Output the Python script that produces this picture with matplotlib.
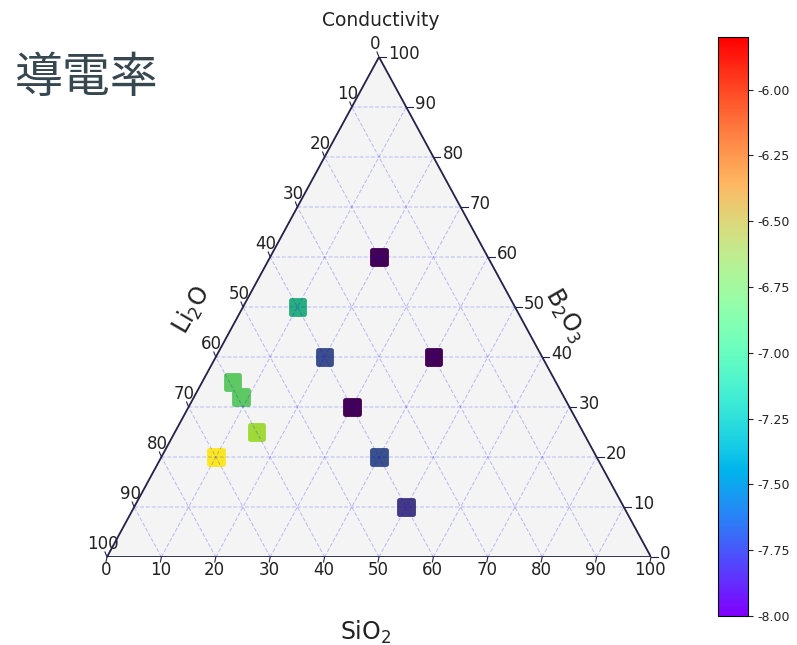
import numpy as np
import matplotlib
matplotlib.use('Agg')
import matplotlib.pyplot as plt
from matplotlib import cm, colors

# compositions (SiO2, B2O3, Li2O) in %
sio2 = [20, 10, 20, 40, 30, 40, 50, 10, 15, 5.6, 8.6]
b2o3 = [60, 50, 40, 40, 30, 20, 10, 20, 25, 35, 32]
li2o = [100 - s - b for s, b in zip(sio2, b2o3)]
# log conductivity
cond = [-8.0, -6.61, -7.47, -8.0, -8.0, -7.45, -7.63, -5.8, -6.11, -6.35, -6.35]

ticks = list(range(0, 101, 10))
cbar_ticks = [-8.0, -7.75, -7.5, -7.25, -7.0, -6.75, -6.5, -6.25, -6.0]
vmin, vmax = -8.0, -5.8

H = np.sqrt(3) / 2


def proj(a, b):
    # a = SiO2 (bottom), b = B2O3 (right)
    a = np.asarray(a, float); b = np.asarray(b, float)
    return a + b / 2.0, b * H


W, Hpx = 797, 645
fig = plt.figure(figsize=(W / 100, Hpx / 100), dpi=100)
ax = fig.add_axes([107 / W, (Hpx - 557) / Hpx, 544 / W, 500 / Hpx])
ax.set_xlim(0, 100)
ax.set_ylim(0, 100 * H)
ax.axis('off')

# background
tx, ty = proj([0, 100, 0], [0, 0, 100])
ax.fill(tx, ty, color='#f4f4f4', zorder=0)

# gridlines
gkw = dict(color='blue', alpha=0.25, lw=0.7, ls=(0, (4, 2)), zorder=3, snap=False)
for v in range(10, 100, 10):
    x, y = proj([0, 100 - v], [v, v])
    ax.plot(x, y, **gkw)
    x, y = proj([v, v], [0, 100 - v])
    ax.plot(x, y, **gkw)
    x, y = proj([100 - v, 0], [0, 100 - v])
    ax.plot(x, y, **gkw)

# boundary
bx, by = proj([0, 100, 0, 0], [0, 0, 100, 0])
ax.plot(bx, by, color='#22224a', lw=1.3, zorder=4)

# points
x, y = proj(sio2, b2o3)
sc = ax.scatter(x, y, c=cond, cmap='viridis', marker='s', s=95, linewidths=3.5,
                edgecolors='face', zorder=2)
sc.set_joinstyle('round')

# ticks and labels
tkw = dict(fontsize=12, color='#222222')
dx, dy = 100 / 544, 100 * H / 500
for t in ticks:
    # bottom: SiO2
    px, py = proj(t, 0)
    ax.plot([px, px - 1 * dx], [py, py - 5 * dy], color='#22224a', lw=0.8, clip_on=False)
    ax.text(px - 1 * dx, py - 13 * dy, str(t), ha='center', va='center', **tkw)
    # right: B2O3
    px, py = proj(100 - t, t)
    ax.plot([px, px + 7 * dx], [py, py], color='#22224a', lw=0.8, clip_on=False)
    ax.text(px + 9 * dx, py + 3 * dy, str(t), ha='left', va='center', **tkw)
    # left: Li2O
    px, py = proj(0, 100 - t)
    ax.plot([px, px - 2 * dx], [py, py + 5 * dy], color='#22224a', lw=0.8, clip_on=False)
    ax.text(px - 4 * dx, py + 13 * dy, str(t), ha='center', va='center', **tkw)

ax.text(259 * dx, -75 * dy, 'SiO$_2$', fontsize=17, ha='center', va='center', color='#222222')
ax.text(85 * dx, 247 * dy, 'Li$_2$O', fontsize=17, rotation=60, ha='center', va='center', color='#222222')
ax.text(458 * dx, 242 * dy, 'B$_2$O$_3$', fontsize=17, rotation=-60, ha='center', va='center', color='#222222')
fig.text(381 / W, 1 - 20 / Hpx, 'Conductivity', fontsize=13.5, ha='center', va='center', color='#222222')

fig.text(15 / W, 1 - 78 / Hpx, '導電率', fontsize=34.5, ha='left', va='center',
         color='#37474f', family=['Noto Sans CJK JP', 'DejaVu Sans'])

# colorbar
cax = fig.add_axes([718 / W, (Hpx - 616) / Hpx, 30 / W, 579 / Hpx])
norm = colors.Normalize(vmin=vmin, vmax=vmax)
cb = fig.colorbar(cm.ScalarMappable(norm=norm, cmap='rainbow'), cax=cax, ticks=cbar_ticks)
cb.ax.set_yticklabels(['%.2f' % v for v in cbar_ticks])
cb.ax.tick_params(labelsize=9, colors='#222222')

fig.savefig('out.png', dpi=100)
